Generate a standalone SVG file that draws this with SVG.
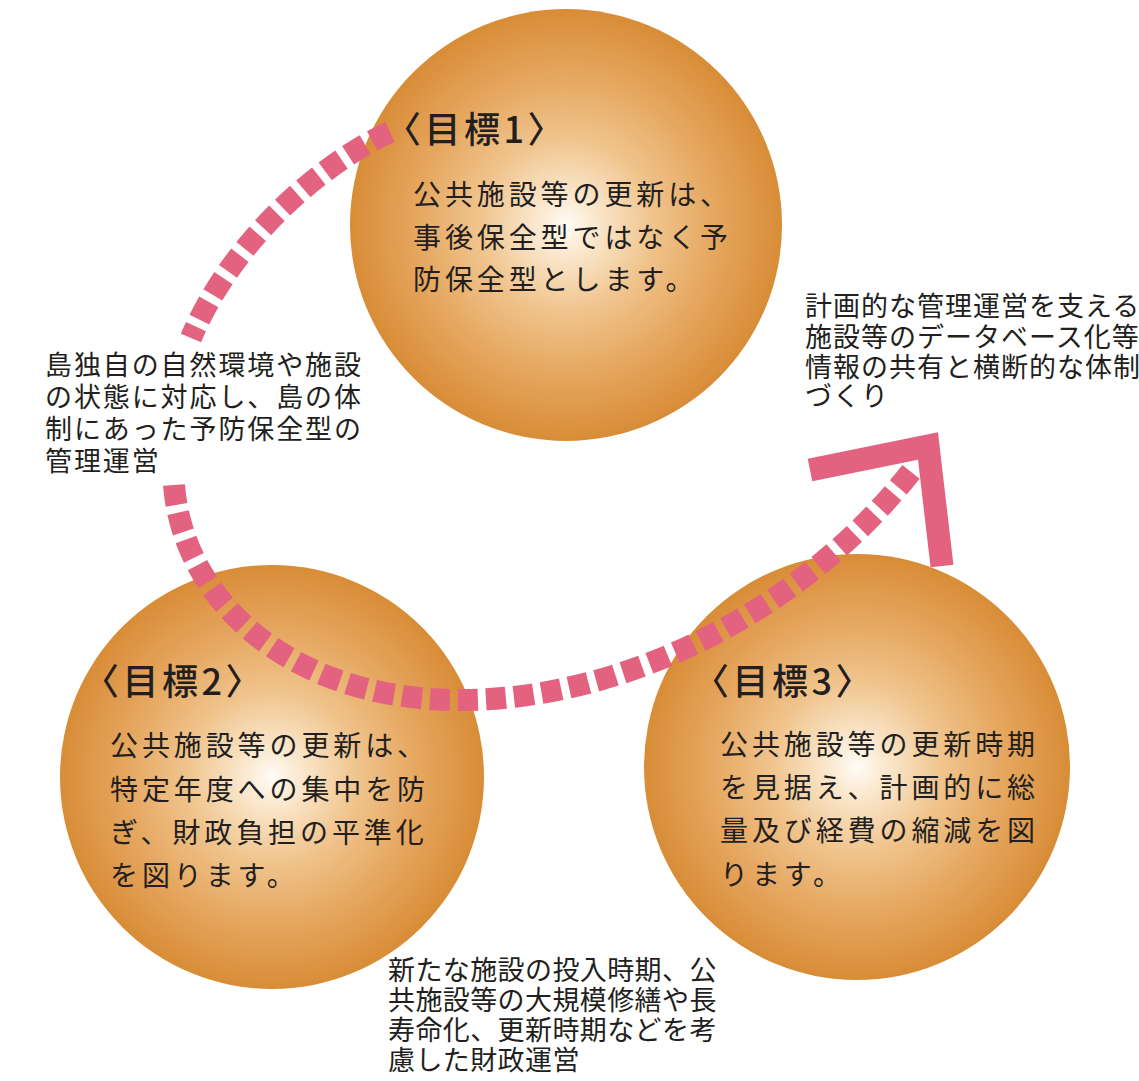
<svg xmlns="http://www.w3.org/2000/svg" width="1139" height="1081" viewBox="0 0 1139 1081">
<defs>
<radialGradient id="ball" cx="50%" cy="50%" r="50%">
<stop offset="0" stop-color="#fffcf7"/>
<stop offset="0.12" stop-color="#fbead2"/>
<stop offset="0.4" stop-color="#f0c48d"/>
<stop offset="0.7" stop-color="#e5a65e"/>
<stop offset="0.92" stop-color="#dc9342"/>
<stop offset="1" stop-color="#d88c36"/>
</radialGradient>
<style>
.ball{fill:url(#ball)}
.head{font-family:"Noto Sans CJK JP","Noto Sans",sans-serif;font-size:36px;font-weight:500;letter-spacing:3.5px;fill:#231f20}
.body{font-family:"Noto Sans CJK JP","Noto Sans",sans-serif;font-size:28px;letter-spacing:3.9px;fill:#231f20}
.note{font-family:"Noto Sans CJK JP","Noto Sans",sans-serif;font-size:27px;fill:#231f20}
.dash{fill:none;stroke:#e2627f;stroke-width:22;stroke-dasharray:20 8}
.arrow{fill:none;stroke:#e2627f;stroke-width:23;stroke-linejoin:miter}
</style>
</defs>
<rect width="1139" height="1081" fill="#ffffff"/>
<g id="goal1">
<circle class="ball" cx="566" cy="225" r="216"/>
</g>
<g id="goal2">
<circle class="ball" cx="272" cy="777" r="212"/>
</g>
<g id="goal3">
<circle class="ball" cx="857" cy="767" r="213"/>
</g>
<g id="connectors">
<path class="dash" d="M390,132 C322,163 232,240 191,338"/>
<path class="dash" d="M174,485 C183,600 290,700 460,700 C620,700 800,615 914,468"/>
<polyline class="arrow" points="810,470 928,446 942,566"/>
</g>
<g id="goal1-text">
<text class="head" x="385" y="143">〈目標1〉</text>
<text class="body" x="413" y="205">公共施設等の更新は、<tspan x="413" y="248">事後保全型ではなく予</tspan><tspan x="413" y="290">防保全型とします。</tspan></text>
</g>
<g id="goal2-text">
<text class="head" x="83" y="695">〈目標2〉</text>
<text class="body" x="110" y="756">公共施設等の更新は、<tspan x="110" y="800">特定年度への集中を防</tspan><tspan x="110" y="843">ぎ、財政負担の平準化</tspan><tspan x="110" y="886">を図ります。</tspan></text>
</g>
<g id="goal3-text">
<text class="head" x="693" y="695">〈目標3〉</text>
<text class="body" x="720" y="755">公共施設等の更新時期<tspan x="720" y="798">を見据え、計画的に総</tspan><tspan x="720" y="841">量及び経費の縮減を図</tspan><tspan x="720" y="885">ります。</tspan></text>
</g>
<g id="note-left">
<text class="note" x="45" y="375" style="letter-spacing:1.9px">島独自の自然環境や施設<tspan x="45" y="407">の状態に対応し、島の体</tspan><tspan x="45" y="439">制にあった予防保全型の</tspan><tspan x="45" y="471">管理運営</tspan></text>
</g>
<g id="note-right">
<text class="note" x="805" y="316" style="letter-spacing:1px">計画的な管理運営を支える<tspan x="805" y="347">施設等のデータベース化等</tspan><tspan x="805" y="377">情報の共有と横断的な体制</tspan><tspan x="805" y="406">づくり</tspan></text>
</g>
<g id="note-bottom">
<text class="note" x="388" y="980" style="letter-spacing:0.4px">新たな施設の投入時期、公<tspan x="388" y="1010">共施設等の大規模修繕や長</tspan><tspan x="388" y="1040">寿命化、更新時期などを考</tspan><tspan x="388" y="1070">慮した財政運営</tspan></text>
</g>
</svg>
